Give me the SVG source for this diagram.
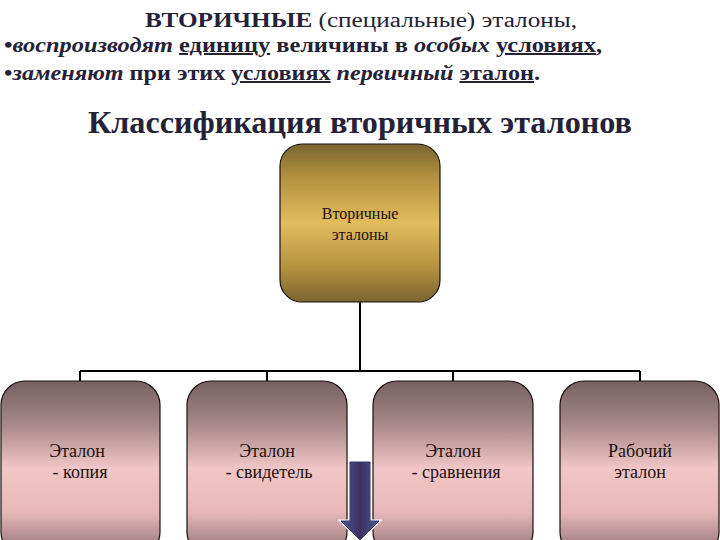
<svg xmlns="http://www.w3.org/2000/svg" width="720" height="540" viewBox="0 0 720 540">
<defs>
<linearGradient id="gold" x1="0" y1="0" x2="0" y2="1">
<stop offset="0" stop-color="#7a6430"/>
<stop offset="0.2" stop-color="#b08f3e"/>
<stop offset="0.5" stop-color="#e2bd5e"/>
<stop offset="0.8" stop-color="#b08f3e"/>
<stop offset="1" stop-color="#7a6430"/>
</linearGradient>
<linearGradient id="pink" x1="0" y1="0" x2="0" y2="1">
<stop offset="0" stop-color="#766064"/>
<stop offset="0.25" stop-color="#a88888"/>
<stop offset="0.5" stop-color="#f2c6c6"/>
<stop offset="0.75" stop-color="#e8b8b8"/>
<stop offset="1" stop-color="#8a6c72"/>
</linearGradient>
<linearGradient id="blue" x1="0" y1="0" x2="1" y2="0">
<stop offset="0" stop-color="#4a5a92"/>
<stop offset="0.5" stop-color="#3e2f62"/>
<stop offset="1" stop-color="#4a5a92"/>
</linearGradient>
<style>
.ttl{fill:#252238}
.nl{fill:#1c1010;text-anchor:middle}
.bx{stroke:#1a1010;stroke-width:1.2}
.cn{stroke:#000;stroke-width:2;fill:none}
</style>
</defs>
<rect width="720" height="540" fill="#fff"/>
<text class="ttl" style="font-family:'Liberation Serif',serif;font-size:20px" x="145" y="27" textLength="432" lengthAdjust="spacingAndGlyphs"><tspan font-weight="bold">ВТОРИЧНЫЕ</tspan> (специальные) эталоны,</text>
<text class="ttl" style="font-family:'Liberation Serif',serif;font-size:20px;font-weight:bold" x="4" y="52" textLength="598" lengthAdjust="spacingAndGlyphs">•<tspan font-style="italic">воспроизводят</tspan> <tspan text-decoration="underline">единицу</tspan> величины в <tspan font-style="italic">особых</tspan> <tspan text-decoration="underline">условиях</tspan>,</text>
<text class="ttl" style="font-family:'Liberation Serif',serif;font-size:20px;font-weight:bold" x="4" y="80" textLength="536" lengthAdjust="spacingAndGlyphs">•<tspan font-style="italic">заменяют</tspan> при этих <tspan text-decoration="underline">условиях</tspan> <tspan font-style="italic">первичный</tspan> <tspan text-decoration="underline">эталон</tspan>.</text>
<text class="ttl" style="font-family:'Liberation Serif',serif;font-size:31px;font-weight:bold" x="88" y="133" textLength="544" lengthAdjust="spacingAndGlyphs">Классификация вторичных эталонов</text>
<g id="connectors">
<path class="cn" d="M360 302V371M80 371H640M80 371V381M267 371V381M453 371V381M640 371V381"/>
</g>
<g id="n0">
<rect class="bx" x="280" y="144" width="160" height="158" rx="22" fill="url(#gold)"/>
<text class="nl" style="font-family:'Liberation Serif',serif;font-size:16px" x="360" y="219">Вторичные</text>
<text class="nl" style="font-family:'Liberation Serif',serif;font-size:16px" x="360" y="240">эталоны</text>
</g>
<g id="n1">
<rect class="bx" x="1" y="381" width="159" height="175" rx="24" fill="url(#pink)"/>
<text class="nl" style="font-family:'Liberation Serif',serif;font-size:18px" x="77" y="457">Эталон</text>
<text class="nl" style="font-family:'Liberation Serif',serif;font-size:18px" x="80" y="478">- копия</text>
</g>
<g id="n2">
<rect class="bx" x="187" y="381" width="160" height="175" rx="24" fill="url(#pink)"/>
<text class="nl" style="font-family:'Liberation Serif',serif;font-size:18px" x="267" y="457">Эталон</text>
<text class="nl" style="font-family:'Liberation Serif',serif;font-size:18px" x="269" y="478">- свидетель</text>
</g>
<g id="n3">
<rect class="bx" x="373" y="381" width="160" height="175" rx="24" fill="url(#pink)"/>
<text class="nl" style="font-family:'Liberation Serif',serif;font-size:18px" x="453" y="457">Эталон</text>
<text class="nl" style="font-family:'Liberation Serif',serif;font-size:18px" x="456" y="478">- сравнения</text>
</g>
<g id="n4">
<rect class="bx" x="560" y="381" width="159" height="175" rx="24" fill="url(#pink)"/>
<text class="nl" style="font-family:'Liberation Serif',serif;font-size:18px" x="640" y="457">Рабочий</text>
<text class="nl" style="font-family:'Liberation Serif',serif;font-size:18px" x="640" y="478">эталон</text>
</g>
<g id="arrow">
<path d="M350 462H370V521H379L360 540L341 521H350Z" fill="url(#blue)" stroke="#fff" stroke-width="3"/>
<path d="M350 462H370V521H379L360 540L341 521H350Z" fill="url(#blue)" stroke="#3a3a70" stroke-width="1"/>
</g>
</svg>
